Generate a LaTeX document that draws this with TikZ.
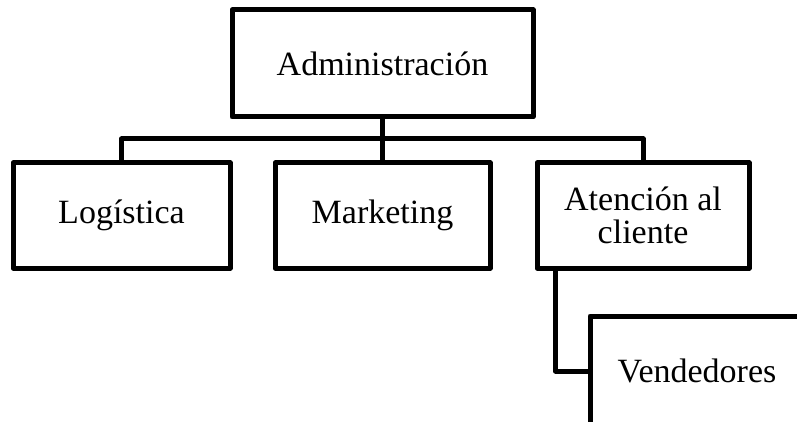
\documentclass[tikz,border=0pt]{standalone}
\usepackage{fontspec}
\setmainfont{Liberation Serif}
\usetikzlibrary{positioning}

\begin{document}
\begin{tikzpicture}[
      x=1pt, y=-1pt,
      box/.style ={rectangle, draw=black, line width=5pt, line join=round, align=center,
                   inner sep=0pt, font=\fontsize{34}{34}\selectfont},
      link/.style ={draw=black, line width=5pt, line join=round}
    ]
    \useasboundingbox (0,0) rectangle (797,422);
    \clip (0,0) rectangle (797,422);
    \node [box, minimum width=301pt, minimum height=107pt] (adm) at (382.5,63.5) {Administración} ;
    \node [box, minimum width=217pt, minimum height=105pt] (log) at (121.5,215.5) {Logística} ;
    \node [box, minimum width=215pt, minimum height=105pt] (mkt) at (382.5,215.5) {Marketing} ;
    \node [box, minimum width=212pt, minimum height=105pt] (ate) at (643,215.5) {Atención al\\[-1pt]cliente} ;
    \node [box, minimum width=214pt, minimum height=110pt] (ven) at (697,371) {Vendedores} ;
    \coordinate (bar) at (0,139) ;

    \draw [link] (adm) -- (mkt) ;
    \draw [link] (log.north) |- (bar -| ate.north) -- (ate.north) ;
    \draw [link] ([xshift=21pt]ate.south west) |- (ven.west) ;
  \end{tikzpicture}
\end{document}
